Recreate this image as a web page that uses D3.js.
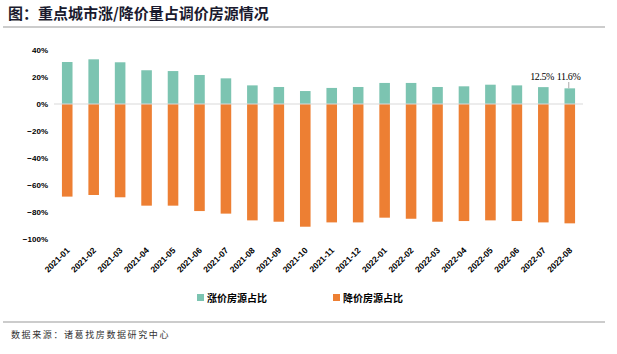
<!doctype html>
<html>
<head>
    <meta charset="utf-8">
    <title>涨降价房源占比</title>
    <style>
        body { margin: 0; background: #fff; }
        svg { display: block; }
        .axis text { font-family: "Liberation Sans", Arial, sans-serif; font-weight: bold; font-size: 8px; fill: #000; }
        .axis path, .axis line { display: none; }
    </style>
    <script src="https://cdn.jsdelivr.net/npm/d3@7"></script>
</head>
<body>
    <svg width="617" height="354"></svg>
    <script>
        // data
        var months = ["2021-01", "2021-02", "2021-03", "2021-04", "2021-05", "2021-06", "2021-07",
            "2021-08", "2021-09", "2021-10", "2021-11", "2021-12", "2022-01", "2022-02", "2022-03",
            "2022-04", "2022-05", "2022-06", "2022-07", "2022-08"];
        var upShare = [31.1, 33.1, 30.9, 25.0, 24.4, 21.5, 19.0, 13.8, 12.6, 9.6,
            11.9, 12.6, 15.6, 15.6, 12.6, 13.1, 14.3, 13.8, 12.5, 11.6];
        var downShare = [-68.6, -67.4, -69.1, -75.3, -75.3, -79.3, -81.2, -86.2, -87.2, -90.9,
            -87.7, -87.7, -84.2, -85.0, -87.2, -86.7, -86.2, -86.7, -87.7, -88.4];
        var yTicks = [40, 20, 0, -20, -40, -60, -80, -100];
        var seriesNames = ["涨价房源占比", "降价房源占比"];
        var colors = ["#7cc4b1", "#ed7f33"];

        var svg = d3.select("svg");

        var x = d3.scaleBand().domain(months).range([54, 583]).paddingInner(0.6).paddingOuter(0.3);
        var y = d3.scaleLinear().domain([-100, 40]).range([239, 50]);

        // title
        svg.append("text")
            .attr("x", 8).attr("y", 19)
            .attr("font-family", "'Noto Sans CJK SC', sans-serif")
            .attr("font-weight", "bold")
            .attr("font-size", 15)
            .attr("fill", "#1a1a2e")
            .text("图：重点城市涨/降价量占调价房源情况");
        svg.append("line").attr("x1", 3).attr("x2", 605).attr("y1", 27).attr("y2", 27)
            .attr("stroke", "#999").attr("stroke-width", 1);

        // y axis
        svg.append("g")
            .attr("class", "axis")
            .attr("transform", "translate(48,0)")
            .call(d3.axisLeft(y).tickValues(yTicks).tickSize(0).tickPadding(0)
                .tickFormat(function (d) { return (d < 0 ? "\u2212" : "") + Math.abs(d) + "%"; }));

        // bars
        svg.append("g").selectAll("rect")
            .data(upShare)
            .enter().append("rect")
            .attr("x", function (d, i) { return x(months[i]); })
            .attr("y", function (d) { return y(d); })
            .attr("width", x.bandwidth())
            .attr("height", function (d) { return y(0) - y(d); })
            .attr("fill", colors[0]);

        svg.append("g").selectAll("rect")
            .data(downShare)
            .enter().append("rect")
            .attr("x", function (d, i) { return x(months[i]); })
            .attr("y", y(0))
            .attr("width", x.bandwidth())
            .attr("height", function (d) { return y(d) - y(0); })
            .attr("fill", colors[1]);

        // zero line
        svg.append("line")
            .attr("x1", 54).attr("x2", 583)
            .attr("y1", y(0)).attr("y2", y(0))
            .attr("stroke", "#d9d9d9").attr("stroke-width", 1);

        // x labels
        svg.append("g").selectAll("text")
            .data(months)
            .enter().append("text")
            .attr("transform", function (d) {
                return "translate(" + (x(d) + x.bandwidth() / 2 + 3) + ",251) rotate(-45)";
            })
            .attr("text-anchor", "end")
            .attr("font-family", "'Liberation Sans', Arial, sans-serif")
            .attr("font-weight", "bold")
            .attr("font-size", 8.5)
            .text(function (d) { return d; });

        // value labels for the last two months
        var n = months.length;
        [n - 2, n - 1].forEach(function (i) {
            svg.append("text")
                .attr("x", x(months[i]) + x.bandwidth() / 2 - 13)
                .attr("y", 79.5)
                .attr("font-family", "'Liberation Serif', serif")
                .attr("font-size", 10)
                .attr("textLength", 24)
                .attr("lengthAdjust", "spacing")
                .text(upShare[i].toFixed(1) + "%");
        });
        svg.append("line")
            .attr("x1", x(months[n - 1]) + x.bandwidth() / 2 - 1)
            .attr("x2", x(months[n - 1]) + x.bandwidth() / 2 - 1)
            .attr("y1", 82).attr("y2", y(upShare[n - 1]))
            .attr("stroke", "#aaa").attr("stroke-width", 1);

        // legend
        var legendX = [197, 333];
        seriesNames.forEach(function (name, i) {
            svg.append("rect")
                .attr("x", legendX[i]).attr("y", 294)
                .attr("width", 7).attr("height", 7)
                .attr("fill", colors[i]);
            svg.append("text")
                .attr("x", legendX[i] + 10).attr("y", 301.5)
                .attr("font-family", "'Noto Sans CJK SC', sans-serif")
                .attr("font-weight", "bold")
                .attr("font-size", 10)
                .text(name);
        });

        // footer
        svg.append("line").attr("x1", 3).attr("x2", 605).attr("y1", 322).attr("y2", 322)
            .attr("stroke", "#999").attr("stroke-width", 1);
        svg.append("text")
            .attr("x", 11).attr("y", 338)
            .attr("font-family", "'Noto Sans CJK SC', sans-serif")
            .attr("font-size", 9)
            .attr("letter-spacing", 1.6)
            .attr("fill", "#333")
            .text("数据来源：诸葛找房数据研究中心");
    </script>
</body>
</html>
